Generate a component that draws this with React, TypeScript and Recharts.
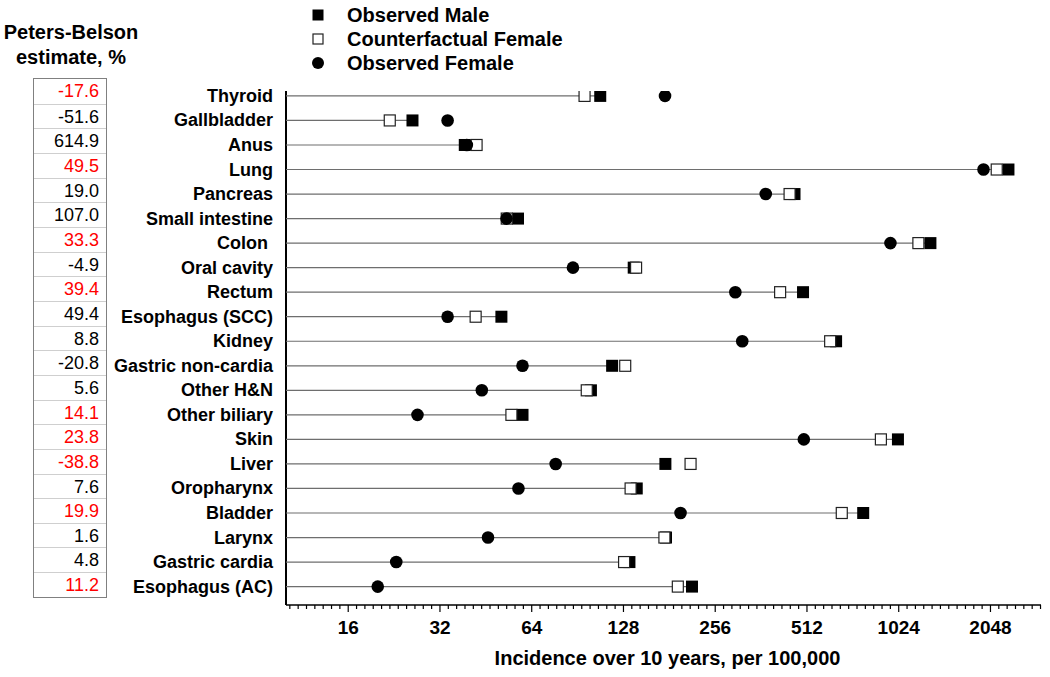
import { Scatter, ScatterChart, XAxis, YAxis } from 'recharts';

const CATEGORIES = [
  'Thyroid',
  'Gallbladder',
  'Anus',
  'Lung',
  'Pancreas',
  'Small intestine',
  'Colon\u00a0',
  'Oral cavity',
  'Rectum',
  'Esophagus (SCC)',
  'Kidney',
  'Gastric non-cardia',
  'Other H&N',
  'Other biliary',
  'Skin',
  'Liver',
  'Oropharynx',
  'Bladder',
  'Larynx',
  'Gastric cardia',
  'Esophagus (AC)',
];

const OBSERVED_MALE = [107.4, 26.0, 38.6, 2346, 466, 57.7, 1301, 138.3, 497, 50.9, 638, 117.5, 100.1, 59.7, 1018, 175.7, 141.5, 783, 176.5, 133.9, 214.8];
const COUNTERFACTUAL_FEMALE = [95.4, 21.9, 42.2, 2147, 449, 53.0, 1188, 140.8, 418, 41.9, 610, 129.7, 97.0, 54.9, 895, 212.5, 135.1, 666, 174.4, 128.6, 193];
const OBSERVED_FEMALE = [175.2, 33.9, 39.2, 1943, 375, 52.9, 962, 87.4, 298, 33.9, 314, 59.7, 43.9, 27.0, 500, 76.7, 57.9, 197, 46.0, 23.0, 20.0];

const PB_ESTIMATES = [-17.6, -51.6, 614.9, 49.5, 19.0, 107.0, 33.3, -4.9, 39.4, 49.4, 8.8, -20.8, 5.6, 14.1, 23.8, -38.8, 7.6, 19.9, 1.6, 4.8, 11.2];
const PB_RED = [true, false, false, true, false, false, true, false, true, false, false, false, false, true, true, true, false, true, false, false, true];

const X_MAJOR_TICKS = [16, 32, 64, 128, 256, 512, 1024, 2048];
const X_DOMAIN: [number, number] = [10, 3000];
const MINOR_STEPS = 11;

const FONT = 'Arial, "Liberation Sans", Helvetica, sans-serif';

const ROW_INDEX = CATEGORIES.map((_, i) => i);

function buildXTicks(): number[] {
  const ticks: number[] = [];
  for (let k = -MINOR_STEPS; k <= MINOR_STEPS * 8; k += 1) {
    const value = X_MAJOR_TICKS[0] * Math.pow(2, k / MINOR_STEPS);
    if (value >= X_DOMAIN[0] && value <= X_DOMAIN[1]) ticks.push(value);
  }
  return ticks;
}

const X_TICKS = buildXTicks();

const maleData = OBSERVED_MALE.map((x, row) => ({ x, row }));
const cfData = COUNTERFACTUAL_FEMALE.map((x, row) => ({ x, row }));
const femaleData = OBSERVED_FEMALE.map((x, row) => ({ x, row }));
const stemData = OBSERVED_MALE.map((x, row) => [
  { x: X_DOMAIN[0], row },
  { x, row },
]);

function isMajor(value: number): boolean {
  return X_MAJOR_TICKS.some((m) => Math.abs(m - value) < m * 1e-6);
}

function XTick(props: any) {
  const { x, y, payload } = props;
  const major = isMajor(payload.value);
  return (
    <g>
      <line x1={x} x2={x} y1={y} y2={y + (major ? 7 : 4)} stroke="#000" strokeWidth={1.2} />
      {major && (
        <text
          x={x}
          y={y + 22}
          textAnchor="middle"
          dominantBaseline="central"
          fontSize={19}
          fontWeight="bold"
          fontFamily={FONT}
          fill="#000"
        >
          {Math.round(payload.value)}
        </text>
      )}
    </g>
  );
}

function YTick(props: any) {
  const { x, y, payload } = props;
  return (
    <text
      x={x - 13}
      y={y}
      textAnchor="end"
      dominantBaseline="central"
      fontSize={18}
      fontWeight="bold"
      fontFamily={FONT}
      fill="#000"
    >
      {CATEGORIES[payload.value]}
    </text>
  );
}

function XTitle(props: any) {
  const { viewBox } = props;
  return (
    <text
      x={viewBox.x + viewBox.width / 2 + 4}
      y={viewBox.y + 53}
      textAnchor="middle"
      dominantBaseline="central"
      fontSize={20}
      fontWeight="bold"
      fontFamily={FONT}
      fill="#000"
    >
      Incidence over 10 years, per 100,000
    </text>
  );
}

const FilledSquare = (p: any) => <rect x={p.cx - 6} y={p.cy - 6} width={12} height={12} fill="#000" />;
const OpenSquare = (p: any) => (
  <rect x={p.cx - 5.5} y={p.cy - 5.5} width={11} height={11} fill="#fff" stroke="#222" strokeWidth={1.2} />
);
const FilledDot = (p: any) => <circle cx={p.cx} cy={p.cy} r={6.3} fill="#000" />;
const NoShape = () => <g />;

const LEGEND_ITEMS = [
  { label: 'Observed Male', icon: 'filledSquare' },
  { label: 'Counterfactual Female', icon: 'openSquare' },
  { label: 'Observed Female', icon: 'dot' },
];

function LegendIcon({ icon }: { icon: string }) {
  return (
    <svg width={14} height={14} style={{ display: 'block' }}>
      {icon === 'filledSquare' && <rect x={1.5} y={1.5} width={11} height={11} fill="#000" />}
      {icon === 'openSquare' && <rect x={2} y={2} width={10} height={10} fill="#fff" stroke="#222" strokeWidth={1.2} />}
      {icon === 'dot' && <circle cx={7} cy={7} r={6} fill="#000" />}
    </svg>
  );
}

export default function App() {
  return (
    <div style={{ position: 'absolute', left: 0, top: 0, width: 1050, height: 677, background: '#fff', fontFamily: FONT }}>
      <div
        style={{
          position: 'absolute',
          left: 0,
          top: 20,
          width: 142,
          textAlign: 'center',
          fontSize: 20,
          fontWeight: 'bold',
          lineHeight: '25px',
          color: '#000',
        }}
      >
        Peters-Belson
        <br />
        estimate, %
      </div>

      <div
        style={{
          position: 'absolute',
          left: 33,
          top: 78,
          width: 74,
          border: '1px solid #808080',
          boxSizing: 'border-box',
          background: '#fff',
        }}
      >
        {PB_ESTIMATES.map((value, i) => (
          <div
            key={CATEGORIES[i]}
            style={{
              height: 24.67,
              boxSizing: 'border-box',
              borderTop: i === 0 ? 'none' : '1px solid #cfcfcf',
              textAlign: 'right',
              paddingRight: 7,
              fontSize: 18,
              lineHeight: '24px',
              color: PB_RED[i] ? '#ff0000' : '#000',
            }}
          >
            {value.toFixed(1)}
          </div>
        ))}
      </div>

      {LEGEND_ITEMS.map((item, i) => (
        <div
          key={item.label}
          style={{
            position: 'absolute',
            left: 311,
            top: 3 + i * 24,
            height: 24,
            display: 'flex',
            alignItems: 'center',
            fontSize: 20,
            fontWeight: 'bold',
            color: '#000',
            whiteSpace: 'nowrap',
          }}
        >
          <LegendIcon icon={item.icon} />
          <span style={{ marginLeft: 22 }}>{item.label}</span>
        </div>
      ))}

      <div style={{ position: 'absolute', left: 0, top: 0 }}>
        <ScatterChart width={1050} height={677} margin={{ top: 91, right: 9, bottom: 0, left: 0 }}>
          <XAxis
            type="number"
            dataKey="x"
            scale="log"
            domain={X_DOMAIN}
            allowDataOverflow
            ticks={X_TICKS}
            interval={0}
            tickSize={0}
            tickMargin={0}
            tickLine={false}
            tick={<XTick />}
            axisLine={{ stroke: '#000', strokeWidth: 1.5 }}
            height={72}
            label={XTitle}
          />
          <YAxis
            type="number"
            dataKey="row"
            domain={[-0.2, 20.75]}
            allowDataOverflow
            reversed
            ticks={ROW_INDEX}
            interval={0}
            tickSize={0}
            tickMargin={0}
            tickLine={false}
            tick={<YTick />}
            axisLine={{ stroke: '#000', strokeWidth: 2 }}
            width={286}
          />
          {stemData.map((data, i) => (
            <Scatter
              key={`stem-${i}`}
              data={data}
              line={{ stroke: '#6e6e6e', strokeWidth: 1.2 }}
              shape={NoShape}
              isAnimationActive={false}
            />
          ))}
          <Scatter name="Observed Male" data={maleData} shape={FilledSquare} isAnimationActive={false} />
          <Scatter name="Counterfactual Female" data={cfData} shape={OpenSquare} isAnimationActive={false} />
          <Scatter name="Observed Female" data={femaleData} shape={FilledDot} isAnimationActive={false} />
        </ScatterChart>
      </div>
    </div>
  );
}
